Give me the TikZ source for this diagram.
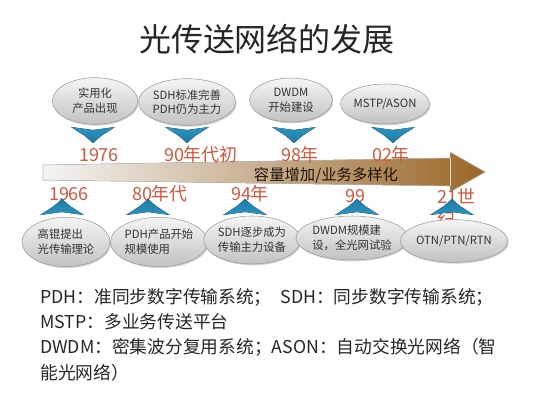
\documentclass[tikz,border=0pt]{standalone}
\usepackage{fontspec}
\setmainfont{Noto Sans CJK SC}
\usetikzlibrary{shapes.geometric}
\usetikzlibrary{shadows}

\definecolor{chevblue}{HTML}{1B7BA6}
\definecolor{chevlight}{HTML}{2F93BF}
\definecolor{yearred}{HTML}{D0583B}
\definecolor{bubtop}{HTML}{F5F5F5}
\definecolor{bubbot}{HTML}{C2C2C2}
\definecolor{bubedge}{HTML}{9A9A9A}
\definecolor{barbrown}{HTML}{9A6726}
\definecolor{barmid}{HTML}{E2D6C8}

\begin{document}
\begin{tikzpicture}[x=0.75pt,y=-0.75pt,
  bubble/.style={ellipse,draw=bubedge,top color=bubtop,bottom color=bubbot,inner sep=0pt,
    text=black!80,font=\fontsize{8.5}{11}\selectfont,
    drop shadow={shadow xshift=0.8pt,shadow yshift=-1pt,opacity=0.35}},
  year/.style={text=yearred,inner sep=0pt,font=\fontsize{13.5}{17}\selectfont},
  downchev/.pic={\fill[top color=chevlight,bottom color=chevblue] (-22,0) -- (0,3) -- (22,0) -- (8,9) -- (0,16) -- (-8,9) -- cycle;},
  upchev/.pic={\fill[bottom color=chevlight,top color=chevblue] (-22,0) -- (0,-3) -- (22,0) -- (8,-9) -- (0,-16) -- (-8,-9) -- cycle;}]
\fill[white] (0,0) rectangle (533,400);
\useasboundingbox (0,0) rectangle (533,400);

% title
\path (267,39) node(title)[font=\fontsize{24}{28}\selectfont,text=black!85]{光传送网络的发展};

% the arrow
\fill[left color=white!96!black,middle color=barmid,right color=barbrown,draw=black!25,line width=0.4pt]
  (43,165) -- (450,158) -- (450,152) -- (485,172) -- (450,192) -- (450,186) -- (43,180) -- cycle;
\draw[white!85!black,line width=0.6pt] (450,158) -- (450,186);
\path (326,175) node(cap)[font=\fontsize{11.5}{14}\selectfont,text=black!85!brown]{容量增加/业务多样化};

% upper row
\path (95,101) node(t1)[bubble,align=center,minimum width=64pt,minimum height=35pt]{实用化\\产品出现}
(187,102) node(t2)[bubble,align=center,minimum width=65pt,minimum height=35pt]{SDH标准完善\\PDH仍为主力}
(291,100) node(t3)[bubble,align=center,minimum width=62pt,minimum height=33pt]{DWDM\\开始建设}
(385,104) node(t4)[bubble,align=center,minimum width=53pt,minimum height=30pt]{MSTP/ASON};
\pic at (93,127) {downchev};
\pic at (187,127) {downchev};
\pic at (294,127) {downchev};
\pic at (393,127) {downchev};
\path (99,155) node(y76)[year]{1976}
(201,155) node(y90)[year]{90年代初}
(300,155) node(y98)[year]{98年}
(391,155) node(y02)[year]{02年};

% lower row
\path (69,194) node(y66)[year]{1966}
(160,194) node(y80)[year]{80年代}
(250,194) node(y94)[year]{94年}
(355,196) node(y99)[year]{99}
(437,208) node(y21)[year,anchor=west,align=left]{21世\\纪};
\pic at (62,215) {upchev};
\pic at (148,215) {upchev};
\pic at (245,215) {upchev};
\pic at (357,215) {upchev};
\pic at (452,215) {upchev};
\path (66,242) node(b1)[bubble,align=left,minimum width=66pt,minimum height=37pt]{高锟提出\\光传输理论}
(159,242) node(b2)[bubble,align=left,minimum width=66pt,minimum height=37pt]{PDH产品开始\\规模使用}
(252,240) node(b3)[bubble,align=left,minimum width=65pt,minimum height=36pt]{SDH逐步成为\\传输主力设备}
(352,238) node(b4)[bubble,align=left,minimum width=63pt,minimum height=33pt]{DWDM规模建\\设，全光网试验}
(454,241) node(b5)[bubble,align=center,minimum width=66pt,minimum height=32pt]{OTN/PTN/RTN};

% legend
\path (40,288) node(key)[anchor=north west,align=left,inner sep=0pt,text=black!85,font=\fontsize{13.3}{19}\selectfont]
{PDH：准同步数字传输系统；\enspace SDH：同步数字传输系统；\\MSTP：多业务传送平台\\DWDM：密集波分复用系统；ASON：自动交换光网络（智\\能光网络）};
\end{tikzpicture}
\end{document}
